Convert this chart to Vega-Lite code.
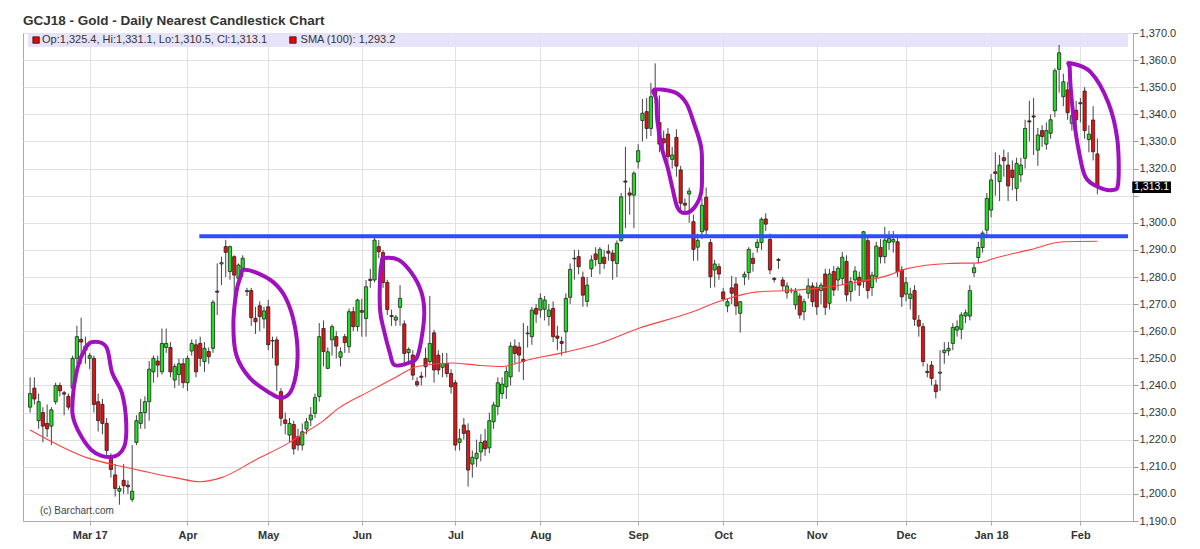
{
  "$schema": "https://vega.github.io/schema/vega-lite/v6.json",
  "width": 1110,
  "height": 488,
  "autosize": {"type": "none"},
  "padding": {"left": 23, "top": 33, "right": 67, "bottom": 28},
  "background": "white",
  "config": {"view": {"stroke": "#aaaaaa"}, "axis": {"labelOverlap": false}, "axisY": {"tickCount": 19, "labelOverlap": false}},
  "title": {"text": "GCJ18 - Gold - Daily Nearest Candlestick Chart", "anchor": "start", "frame": "group", "font": "Liberation Sans", "fontSize": 13.5, "fontWeight": "bold", "color": "#333333", "offset": -11, "baseline": "alphabetic"},
  "datasets": {
    "ohlc": [
      {"i":0,"o":1232,"h":1243,"l":1230,"c":1237},{"i":1,"o":1239,"h":1243,"l":1233,"c":1235},{"i":2,"o":1227,"h":1237,"l":1224,"c":1234},{"i":3,"o":1230,"h":1232,"l":1219,"c":1225},{"i":4,"o":1226,"h":1233,"l":1221,"c":1224},{"i":5,"o":1225,"h":1232,"l":1218,"c":1231},{"i":6,"o":1234,"h":1241,"l":1233,"c":1240},{"i":7,"o":1240,"h":1241,"l":1236,"c":1238},{"i":8,"o":1237.3,"h":1238,"l":1229,"c":1236.8},{"i":9,"o":1236,"h":1237,"l":1231,"c":1232},
      {"i":10,"o":1239,"h":1251,"l":1233,"c":1250},{"i":11,"o":1250,"h":1262,"l":1248,"c":1258},{"i":12,"o":1257,"h":1265,"l":1248,"c":1256},{"i":13,"o":1253,"h":1258,"l":1248,"c":1254.5},{"i":14,"o":1250,"h":1252,"l":1246,"c":1251},{"i":15,"o":1250,"h":1251,"l":1230,"c":1233},{"i":16,"o":1234,"h":1237,"l":1223,"c":1227},{"i":17,"o":1233,"h":1235,"l":1222,"c":1226},{"i":18,"o":1226,"h":1228,"l":1214,"c":1216},{"i":19,"o":1214,"h":1215,"l":1206,"c":1209},
      {"i":20,"o":1207,"h":1211,"l":1199,"c":1202},{"i":21,"o":1201,"h":1203,"l":1196,"c":1202},{"i":22,"o":1205,"h":1211,"l":1200,"c":1203},{"i":23,"o":1203.2,"h":1205,"l":1200,"c":1202.6},{"i":24,"o":1198,"h":1218,"l":1197,"c":1201},{"i":25,"o":1219,"h":1229,"l":1218,"c":1227},{"i":26,"o":1226,"h":1235,"l":1224,"c":1230},{"i":27,"o":1230,"h":1236,"l":1224,"c":1234},{"i":28,"o":1234,"h":1249,"l":1227,"c":1246},{"i":29,"o":1245,"h":1251,"l":1241,"c":1250},
      {"i":30,"o":1249,"h":1251,"l":1243,"c":1247.5},{"i":31,"o":1245,"h":1261,"l":1244,"c":1255.5},{"i":32,"o":1254,"h":1261,"l":1252,"c":1255.5},{"i":33,"o":1254,"h":1256,"l":1243,"c":1245},{"i":34,"o":1242,"h":1248,"l":1239,"c":1247},{"i":35,"o":1244,"h":1250,"l":1240,"c":1248},{"i":36,"o":1248,"h":1250,"l":1239,"c":1241},{"i":37,"o":1241,"h":1251,"l":1238,"c":1250},{"i":38,"o":1252.7,"h":1257,"l":1251,"c":1255.5},{"i":39,"o":1255,"h":1257,"l":1243,"c":1245},
      {"i":40,"o":1255.5,"h":1258,"l":1247,"c":1250},{"i":41,"o":1248.8,"h":1256,"l":1245,"c":1253.7},{"i":42,"o":1252.5,"h":1254,"l":1248,"c":1250.6},{"i":43,"o":1253.7,"h":1271.5,"l":1252,"c":1270.7},{"i":44,"o":1274.8,"h":1285,"l":1266,"c":1274.4},{"i":45,"o":1284.8,"h":1287.5,"l":1277,"c":1285.3},{"i":46,"o":1291.2,"h":1293.7,"l":1280,"c":1289.1},{"i":47,"o":1282,"h":1291.6,"l":1279,"c":1291.2},{"i":48,"o":1287.5,"h":1288,"l":1272,"c":1280.7},{"i":49,"o":1279.5,"h":1285,"l":1277,"c":1284.4},
      {"i":50,"o":1283.2,"h":1288,"l":1280,"c":1286.9},{"i":51,"o":1274.6,"h":1276,"l":1273,"c":1275},{"i":52,"o":1275,"h":1276,"l":1262,"c":1265},{"i":53,"o":1264.8,"h":1269,"l":1259,"c":1263.5},{"i":54,"o":1269.4,"h":1271,"l":1260,"c":1265.4},{"i":55,"o":1264.5,"h":1269,"l":1261,"c":1267.5},{"i":56,"o":1269,"h":1271.5,"l":1253,"c":1255},{"i":57,"o":1256.6,"h":1258,"l":1250,"c":1256.4},{"i":58,"o":1256.8,"h":1258,"l":1238,"c":1247.5},{"i":59,"o":1237.7,"h":1239,"l":1225,"c":1227.9},
      {"i":60,"o":1227.3,"h":1230,"l":1222,"c":1226},{"i":61,"o":1221.7,"h":1228,"l":1219,"c":1226},{"i":62,"o":1225.6,"h":1227,"l":1214.5,"c":1216.6},{"i":63,"o":1221.1,"h":1224,"l":1216,"c":1218},{"i":64,"o":1218,"h":1226,"l":1216,"c":1222.9},{"i":65,"o":1223.9,"h":1228,"l":1222,"c":1226.6},{"i":66,"o":1227.3,"h":1232,"l":1225,"c":1229.1},{"i":67,"o":1229.7,"h":1237,"l":1228,"c":1235.5},{"i":68,"o":1235.9,"h":1263,"l":1234,"c":1258},{"i":69,"o":1261,"h":1264,"l":1247,"c":1252.5},
      {"i":70,"o":1246.3,"h":1254,"l":1246,"c":1252.4},{"i":71,"o":1256.8,"h":1262.5,"l":1251,"c":1261.7},{"i":72,"o":1258,"h":1260,"l":1250,"c":1254.5},{"i":73,"o":1250.4,"h":1254,"l":1247,"c":1252.4},{"i":74,"o":1258,"h":1259,"l":1252,"c":1255.8},{"i":75,"o":1254.3,"h":1268.4,"l":1252,"c":1267.2},{"i":76,"o":1267.2,"h":1269,"l":1260,"c":1261.7},{"i":77,"o":1261.7,"h":1272,"l":1260,"c":1271.5},{"i":78,"o":1267.6,"h":1272,"l":1258,"c":1267},{"i":79,"o":1264.7,"h":1278.9,"l":1258,"c":1276.4},
      {"i":80,"o":1279.2,"h":1283,"l":1276,"c":1278.7},{"i":81,"o":1278.9,"h":1295,"l":1278,"c":1293.6},{"i":82,"o":1291.2,"h":1293.6,"l":1287,"c":1289.3},{"i":83,"o":1289,"h":1290,"l":1276,"c":1278},{"i":84,"o":1278,"h":1279,"l":1266,"c":1268},{"i":85,"o":1265.8,"h":1268,"l":1262,"c":1265.4},{"i":86,"o":1264.1,"h":1266,"l":1262,"c":1265.2},{"i":87,"o":1268.8,"h":1277,"l":1262,"c":1272.1},{"i":88,"o":1262.7,"h":1264,"l":1247,"c":1251.8},{"i":89,"o":1252.1,"h":1254,"l":1249,"c":1253.3},
      {"i":90,"o":1251.2,"h":1253,"l":1242,"c":1243.8},{"i":91,"o":1241.4,"h":1243,"l":1239.5,"c":1240.2},{"i":92,"o":1243.4,"h":1245,"l":1240,"c":1243},{"i":93,"o":1250,"h":1254,"l":1243,"c":1246.9},{"i":94,"o":1248.8,"h":1273,"l":1248,"c":1255.5},{"i":95,"o":1259.4,"h":1260.5,"l":1241,"c":1245.7},{"i":96,"o":1251.2,"h":1253,"l":1244,"c":1245.7},{"i":97,"o":1246.7,"h":1252,"l":1243,"c":1248.1},{"i":98,"o":1248.1,"h":1252,"l":1243,"c":1244.4},{"i":99,"o":1244.4,"h":1246,"l":1237,"c":1239.5},
      {"i":100,"o":1241,"h":1242,"l":1216,"c":1218},{"i":101,"o":1219,"h":1224,"l":1216,"c":1220.3},{"i":102,"o":1225.4,"h":1228,"l":1220,"c":1222.3},{"i":103,"o":1223.3,"h":1226,"l":1202.7,"c":1208.8},{"i":104,"o":1211,"h":1216,"l":1206,"c":1213.5},{"i":105,"o":1213,"h":1220,"l":1210,"c":1215},{"i":106,"o":1215.5,"h":1222,"l":1212,"c":1219},{"i":107,"o":1219.5,"h":1224,"l":1214,"c":1216.6},{"i":108,"o":1217,"h":1230,"l":1215,"c":1227},{"i":109,"o":1226.6,"h":1234,"l":1224,"c":1232.8},
      {"i":110,"o":1232.2,"h":1243,"l":1229,"c":1241},{"i":111,"o":1237,"h":1243,"l":1235,"c":1240.5},{"i":112,"o":1239.5,"h":1247,"l":1235,"c":1245.1},{"i":113,"o":1243.2,"h":1256,"l":1240,"c":1254.5},{"i":114,"o":1254.5,"h":1257,"l":1248,"c":1251.8},{"i":115,"o":1254.2,"h":1256,"l":1245,"c":1251.2},{"i":116,"o":1249.6,"h":1263,"l":1242,"c":1248.9},{"i":117,"o":1259.3,"h":1262,"l":1254,"c":1259.1},{"i":118,"o":1258,"h":1269,"l":1255,"c":1267.8},{"i":119,"o":1268.4,"h":1270,"l":1263,"c":1266.3},
      {"i":120,"o":1267.8,"h":1274,"l":1265,"c":1272.1},{"i":121,"o":1268.1,"h":1273,"l":1264,"c":1271.5},{"i":122,"o":1265.4,"h":1270,"l":1262,"c":1267.8},{"i":123,"o":1268.4,"h":1271,"l":1256,"c":1258},{"i":124,"o":1258.2,"h":1262,"l":1253,"c":1257.4},{"i":125,"o":1256.2,"h":1258,"l":1251,"c":1255.5},{"i":126,"o":1259.8,"h":1274,"l":1252,"c":1272.1},{"i":127,"o":1272.5,"h":1285,"l":1270,"c":1282.8},{"i":128,"o":1286.9,"h":1290,"l":1279,"c":1286.7},{"i":129,"o":1287.5,"h":1290,"l":1281,"c":1283.8},
      {"i":130,"o":1279.9,"h":1282,"l":1269,"c":1273.3},{"i":131,"o":1271,"h":1280,"l":1269,"c":1277},{"i":132,"o":1283,"h":1288,"l":1280,"c":1286.3},{"i":133,"o":1288.5,"h":1291,"l":1284,"c":1286.5},{"i":134,"o":1285,"h":1291,"l":1281,"c":1290.2},{"i":135,"o":1287.3,"h":1290,"l":1283,"c":1285},{"i":136,"o":1289.5,"h":1292,"l":1286,"c":1288.8},{"i":137,"o":1288.8,"h":1290,"l":1279,"c":1286},{"i":138,"o":1285,"h":1293.5,"l":1280,"c":1292.4},{"i":139,"o":1293.4,"h":1311,"l":1293,"c":1309.6},
      {"i":140,"o":1315.4,"h":1328,"l":1298,"c":1315},{"i":141,"o":1311,"h":1313,"l":1303,"c":1310.2},{"i":142,"o":1310.2,"h":1319,"l":1298,"c":1318.3},{"i":143,"o":1322.5,"h":1329,"l":1320,"c":1326.6},{"i":144,"o":1337.7,"h":1345.7,"l":1330,"c":1340.4},{"i":145,"o":1341,"h":1346,"l":1331,"c":1334.8},{"i":146,"o":1334.8,"h":1351.6,"l":1332,"c":1346.5},{"i":147,"o":1349.6,"h":1358.8,"l":1344,"c":1347.1},{"i":148,"o":1337,"h":1347,"l":1326,"c":1329},{"i":149,"o":1331,"h":1334,"l":1324,"c":1329.5},
      {"i":150,"o":1332.7,"h":1335,"l":1322,"c":1324.4},{"i":151,"o":1323.4,"h":1328,"l":1320,"c":1325},{"i":152,"o":1331.5,"h":1334.5,"l":1317,"c":1320.9},{"i":153,"o":1319.5,"h":1321,"l":1305,"c":1307.2},{"i":154,"o":1307.2,"h":1309,"l":1303,"c":1306.5},{"i":155,"o":1310.6,"h":1313,"l":1300,"c":1311.7},{"i":156,"o":1300.4,"h":1303,"l":1286,"c":1290.2},{"i":157,"o":1291,"h":1296,"l":1286,"c":1293.5},{"i":158,"o":1296.7,"h":1309,"l":1294,"c":1306.5},{"i":159,"o":1309.4,"h":1313,"l":1295,"c":1297.3},
      {"i":160,"o":1292.7,"h":1294,"l":1276,"c":1280.1},{"i":161,"o":1282.6,"h":1286.3,"l":1276.2,"c":1284.8},{"i":162,"o":1283.8,"h":1285,"l":1279,"c":1281.1},{"i":163,"o":1274.5,"h":1276,"l":1271,"c":1271.9},{"i":164,"o":1269.3,"h":1272,"l":1267,"c":1270.9},{"i":165,"o":1276,"h":1280.4,"l":1270,"c":1274},{"i":166,"o":1277.4,"h":1280,"l":1266,"c":1269.3},{"i":167,"o":1266.6,"h":1271,"l":1259.5,"c":1270.9},{"i":168,"o":1280,"h":1282,"l":1277,"c":1281},{"i":169,"o":1281.6,"h":1291,"l":1279,"c":1290.2},
      {"i":170,"o":1286.9,"h":1289,"l":1282,"c":1285},{"i":171,"o":1290.9,"h":1294,"l":1289,"c":1292.8},{"i":172,"o":1292.7,"h":1302,"l":1290,"c":1301.3},{"i":173,"o":1301.4,"h":1303.5,"l":1297,"c":1299.5},{"i":174,"o":1293.9,"h":1296,"l":1281,"c":1282.6},{"i":175,"o":1279.5,"h":1280,"l":1278,"c":1279.1},{"i":176,"o":1286.5,"h":1287,"l":1283,"c":1286.1},{"i":177,"o":1278.9,"h":1280,"l":1275,"c":1276.7},{"i":178,"o":1274.2,"h":1278,"l":1272,"c":1276.7},{"i":179,"o":1275.1,"h":1276,"l":1274,"c":1274.9},
      {"i":180,"o":1269.7,"h":1276,"l":1268,"c":1274.6},{"i":181,"o":1273,"h":1274,"l":1264.6,"c":1266},{"i":182,"o":1267.2,"h":1272,"l":1264,"c":1270.9},{"i":183,"o":1274,"h":1279.5,"l":1272,"c":1276.7},{"i":184,"o":1276.7,"h":1278,"l":1269,"c":1270.9},{"i":185,"o":1276.2,"h":1278,"l":1266,"c":1269},{"i":186,"o":1275,"h":1278,"l":1270,"c":1277},{"i":187,"o":1281.1,"h":1283,"l":1266,"c":1268.8},{"i":188,"o":1270.3,"h":1283,"l":1268,"c":1281.1},{"i":189,"o":1282,"h":1284,"l":1273,"c":1275.2},
      {"i":190,"o":1278.9,"h":1284,"l":1275,"c":1283.2},{"i":191,"o":1279.5,"h":1289.3,"l":1277,"c":1287.3},{"i":192,"o":1285.7,"h":1288,"l":1271,"c":1273.4},{"i":193,"o":1274.6,"h":1280,"l":1271,"c":1278.3},{"i":194,"o":1278.9,"h":1284,"l":1275,"c":1282.2},{"i":195,"o":1279.9,"h":1282,"l":1273,"c":1277},{"i":196,"o":1278.3,"h":1297,"l":1276,"c":1296.7},{"i":197,"o":1293.4,"h":1295,"l":1272,"c":1275},{"i":198,"o":1276.1,"h":1282,"l":1273,"c":1280.7},{"i":199,"o":1280.1,"h":1293,"l":1278,"c":1291.4},
      {"i":200,"o":1290.9,"h":1294,"l":1285,"c":1287.5},{"i":201,"o":1287.5,"h":1298.5,"l":1285,"c":1293.6},{"i":202,"o":1292.7,"h":1297,"l":1290,"c":1294.2},{"i":203,"o":1293,"h":1297,"l":1289,"c":1293.8},{"i":204,"o":1293,"h":1295,"l":1280,"c":1282},{"i":205,"o":1282.6,"h":1284,"l":1269,"c":1272.7},{"i":206,"o":1273.7,"h":1280,"l":1271,"c":1277.9},{"i":207,"o":1272.1,"h":1276,"l":1268,"c":1273.7},{"i":208,"o":1275,"h":1277,"l":1262,"c":1264.4},{"i":209,"o":1264.1,"h":1266,"l":1258,"c":1261.9},
      {"i":210,"o":1261.7,"h":1263,"l":1247,"c":1248.8},{"i":211,"o":1245.2,"h":1248,"l":1243,"c":1244.8},{"i":212,"o":1247.5,"h":1249,"l":1240,"c":1242.6},{"i":213,"o":1240.2,"h":1242,"l":1235.2,"c":1237.7},{"i":214,"o":1244.5,"h":1253,"l":1238,"c":1244.9},{"i":215,"o":1252.1,"h":1256,"l":1248,"c":1253},{"i":216,"o":1252.8,"h":1256,"l":1251,"c":1253.7},{"i":217,"o":1255.5,"h":1263,"l":1253,"c":1261.4},{"i":218,"o":1260.4,"h":1264,"l":1258,"c":1261.7},{"i":219,"o":1260.7,"h":1267,"l":1257,"c":1266},
      {"i":220,"o":1265.6,"h":1268,"l":1263,"c":1266.8},{"i":221,"o":1265.6,"h":1277,"l":1264,"c":1275},{"i":222,"o":1281.6,"h":1285,"l":1280,"c":1283.4},{"i":223,"o":1287.2,"h":1293,"l":1285,"c":1290.9},{"i":224,"o":1290.9,"h":1297,"l":1289,"c":1296.2},{"i":225,"o":1297.3,"h":1311,"l":1295,"c":1309},{"i":226,"o":1304.7,"h":1318,"l":1302,"c":1315.8},{"i":227,"o":1318.8,"h":1326,"l":1310,"c":1318.2},{"i":228,"o":1315.2,"h":1325,"l":1308,"c":1321.3},{"i":229,"o":1324,"h":1327,"l":1317,"c":1322.9},
      {"i":230,"o":1321.3,"h":1326,"l":1308,"c":1313.6},{"i":231,"o":1319.4,"h":1323,"l":1312,"c":1316.7},{"i":232,"o":1312.7,"h":1324,"l":1308,"c":1321.9},{"i":233,"o":1317.7,"h":1324,"l":1315,"c":1321.3},{"i":234,"o":1323.8,"h":1338,"l":1320,"c":1334.8},{"i":235,"o":1337.6,"h":1345,"l":1330,"c":1337.2},{"i":236,"o":1339.4,"h":1346,"l":1325,"c":1339},{"i":237,"o":1326.8,"h":1335,"l":1321,"c":1332.4},{"i":238,"o":1334,"h":1336,"l":1328,"c":1331.8},{"i":239,"o":1329,"h":1337,"l":1327,"c":1334},
      {"i":240,"o":1333,"h":1340,"l":1331,"c":1338},{"i":241,"o":1341.3,"h":1357,"l":1339,"c":1356.1},{"i":242,"o":1356.6,"h":1365.6,"l":1348,"c":1362.7},{"i":243,"o":1346.5,"h":1355,"l":1343,"c":1352},{"i":244,"o":1349,"h":1352,"l":1338,"c":1340.6},{"i":245,"o":1336.7,"h":1342,"l":1334,"c":1339.5},{"i":246,"o":1341.5,"h":1345,"l":1335,"c":1338},{"i":247,"o":1344.3,"h":1346,"l":1337,"c":1343.9},{"i":248,"o":1348.6,"h":1350,"l":1331,"c":1334},{"i":249,"o":1330.7,"h":1336,"l":1326,"c":1332.7},
      {"i":250,"o":1337.9,"h":1343,"l":1323,"c":1326.2},{"i":251,"o":1325.4,"h":1331.1,"l":1310.5,"c":1313.1}
    ],
    "sma": [
      {"i":0,"v":1223.6},{"i":14,"v":1213},{"i":22,"v":1210},{"i":34,"v":1206},{"i":40,"v":1204.5},{"i":45,"v":1206},{"i":53,"v":1212.5},{"i":61,"v":1219},{"i":64,"v":1222},{"i":69,"v":1227},{"i":72,"v":1231},{"i":80,"v":1238},{"i":86,"v":1243},{"i":91,"v":1247},{"i":99,"v":1248.3},{"i":105,"v":1247.5},{"i":111,"v":1247},{"i":117,"v":1249.4},{"i":125,"v":1252},{"i":134,"v":1255.6},{"i":143,"v":1261},{"i":155,"v":1266.7},{"i":163,"v":1271.5},{"i":171,"v":1274.5},{"i":178,"v":1275},{"i":186,"v":1276},{"i":194,"v":1278},{"i":202,"v":1280.7},{"i":206,"v":1283},{"i":216,"v":1285},{"i":223,"v":1285.2},{"i":227,"v":1287},{"i":235,"v":1290},{"i":243,"v":1293},{"i":251,"v":1293.2}
    ],
    "loops": [
      {"g":1,"k":0,"i":14.6,"p":1256},{"g":1,"k":1,"i":17.9,"p":1254.2},{"g":1,"k":2,"i":19.3,"p":1244.6},{"g":1,"k":3,"i":21.6,"p":1237.2},{"g":1,"k":4,"i":22.6,"p":1226.1},{"g":1,"k":5,"i":22.1,"p":1217.3},{"g":1,"k":6,"i":19.1,"p":1213.6},{"g":1,"k":7,"i":14.4,"p":1216.2},{"g":1,"k":8,"i":10.5,"p":1226.1},{"g":1,"k":9,"i":10,"p":1234.6},{"g":1,"k":10,"i":11.2,"p":1246.8},{"g":1,"k":11,"i":12.8,"p":1253.1},
      {"g":2,"k":0,"i":50.1,"p":1282.6},{"g":2,"k":1,"i":52.9,"p":1281.8},{"g":2,"k":2,"i":57.1,"p":1278.2},{"g":2,"k":3,"i":60.1,"p":1272.3},{"g":2,"k":4,"i":62.2,"p":1262.3},{"g":2,"k":5,"i":62.9,"p":1250.1},{"g":2,"k":6,"i":61.7,"p":1239.1},{"g":2,"k":7,"i":59.4,"p":1235.4},{"g":2,"k":8,"i":56.4,"p":1237.2},{"g":2,"k":9,"i":51.7,"p":1242.7},{"g":2,"k":10,"i":48.5,"p":1251.2},{"g":2,"k":11,"i":47.8,"p":1262.3},{"g":2,"k":12,"i":48.5,"p":1274.5},{"g":2,"k":13,"i":49.6,"p":1280.7},
      {"g":3,"k":0,"i":83.2,"p":1287},{"g":3,"k":1,"i":86.7,"p":1286.3},{"g":3,"k":2,"i":89.7,"p":1281.5},{"g":3,"k":3,"i":92,"p":1274.5},{"g":3,"k":4,"i":92.7,"p":1266.7},{"g":3,"k":5,"i":92,"p":1256.8},{"g":3,"k":6,"i":90.9,"p":1250.1},{"g":3,"k":7,"i":89,"p":1248.3},{"g":3,"k":8,"i":85.7,"p":1247.5},{"g":3,"k":9,"i":84.6,"p":1252},{"g":3,"k":10,"i":83.2,"p":1260.4},{"g":3,"k":11,"i":82.3,"p":1267.8},{"g":3,"k":12,"i":82.3,"p":1280},{"g":3,"k":13,"i":82.7,"p":1285.5},
      {"g":4,"k":0,"i":146.8,"p":1349},{"g":4,"k":1,"i":151.5,"p":1348.2},{"g":4,"k":2,"i":154.3,"p":1344.2},{"g":4,"k":3,"i":156.1,"p":1336.8},{"g":4,"k":4,"i":157.8,"p":1328},{"g":4,"k":5,"i":158,"p":1319.5},{"g":4,"k":6,"i":157.8,"p":1311},{"g":4,"k":7,"i":156.1,"p":1305.4},{"g":4,"k":8,"i":153.8,"p":1303.6},{"g":4,"k":9,"i":152.2,"p":1305.8},{"g":4,"k":10,"i":151,"p":1313.2},{"g":4,"k":11,"i":149.9,"p":1320.6},{"g":4,"k":12,"i":148.5,"p":1327.9},{"g":4,"k":13,"i":147.5,"p":1337.9},{"g":4,"k":14,"i":147.3,"p":1345.3},
      {"g":5,"k":0,"i":244.5,"p":1358.9},{"g":5,"k":1,"i":249.4,"p":1355.6},{"g":5,"k":2,"i":253.6,"p":1344.2},{"g":5,"k":3,"i":255.7,"p":1330.5},{"g":5,"k":4,"i":255.9,"p":1314.7},{"g":5,"k":5,"i":254.5,"p":1312.1},{"g":5,"k":6,"i":251.2,"p":1313.2},{"g":5,"k":7,"i":248.2,"p":1316.9},{"g":5,"k":8,"i":246.6,"p":1326.8},{"g":5,"k":9,"i":245.4,"p":1339},{"g":5,"k":10,"i":244.7,"p":1350.1},{"g":5,"k":11,"i":244.5,"p":1357.1}
    ]
  },
  "layer": [
    {
      "data": {"values": [{}]},
      "mark": {"type": "rect", "fill": "#e4e1fa", "opacity": 0.9},
      "encoding": {
        "x": {"datum": -0.5, "type": "quantitative", "scale": {"domain": [-0.5, 258.2], "nice": false, "zero": false},
          "axis": {"title": null, "values": [14,37,56,78,100,120,143,163,185,206,226,247],
            "labelExpr": "['Mar 17','Apr','May','Jun','Jul','Aug','Sep','Oct','Nov','Dec','Jan 18','Feb'][indexof([14,37,56,78,100,120,143,163,185,206,226,247], datum.value)]",
            "grid": true, "gridColor": "#e0e0e0", "domainColor": "#aaaaaa", "tickColor": "#aaaaaa", "tickSize": 4,
            "labelFont": "Liberation Sans", "labelFontSize": 11, "labelFontWeight": "bold", "labelColor": "#333333", "labelPadding": 4, "labelFlush": false, "labelOverlap": false}},
        "x2": {"datum": 258.2},
        "y": {"datum": 1364.8, "type": "quantitative", "scale": {"domain": [1190, 1370], "nice": false, "zero": false},
          "axis": {"title": null, "orient": "right", "values": [1190,1200,1210,1220,1230,1240,1250,1260,1270,1280,1290,1300,1310,1320,1330,1340,1350,1360,1370], "tickCount": 19,
            "labelExpr": "datum.value == 1310 ? '' : format(datum.value, ',.1f')",
            "grid": true, "gridColor": "#e0e0e0", "domainColor": "#aaaaaa", "tickColor": "#999999", "tickSize": 5,
            "labelFont": "Liberation Sans", "labelFontSize": 11, "labelColor": "#333333", "labelPadding": 1, "labelOverlap": false}},
        "y2": {"datum": 1370}
      }
    },
    {
      "data": {"name": "ohlc"},
      "mark": {"type": "rule", "color": "#444444", "strokeWidth": 1},
      "encoding": {
        "x": {"field": "i", "type": "quantitative", "scale": {"domain": [-0.5, 258.2], "nice": false, "zero": false}},
        "y": {"field": "l", "type": "quantitative", "scale": {"domain": [1190, 1370], "nice": false, "zero": false}},
        "y2": {"field": "h"}
      }
    },
    {
      "data": {"name": "ohlc"},
      "mark": {"type": "bar", "size": 3.2, "stroke": "#222222", "strokeWidth": 0.8},
      "encoding": {
        "x": {"field": "i", "type": "quantitative", "scale": {"domain": [-0.5, 258.2], "nice": false, "zero": false}},
        "y": {"field": "o", "type": "quantitative", "scale": {"domain": [1190, 1370], "nice": false, "zero": false}},
        "y2": {"field": "c"},
        "fill": {"condition": {"test": "datum.c >= datum.o", "value": "#1fe01f"}, "value": "#e81010"}
      }
    },
    {
      "data": {"name": "sma"},
      "mark": {"type": "line", "color": "#ff4040", "strokeWidth": 1.1, "interpolate": "monotone"},
      "encoding": {
        "x": {"field": "i", "type": "quantitative", "scale": {"domain": [-0.5, 258.2], "nice": false, "zero": false}},
        "y": {"field": "v", "type": "quantitative", "scale": {"domain": [1190, 1370], "nice": false, "zero": false}}
      }
    },
    {
      "data": {"values": [{}]},
      "mark": {"type": "rule", "color": "#2f4ef5", "strokeWidth": 4},
      "encoding": {
        "x": {"datum": 39.8, "type": "quantitative", "scale": {"domain": [-0.5, 258.2], "nice": false, "zero": false}},
        "x2": {"datum": 258.2},
        "y": {"datum": 1295, "type": "quantitative", "scale": {"domain": [1190, 1370], "nice": false, "zero": false}}
      }
    },
    {
      "data": {"name": "loops"},
      "mark": {"type": "line", "color": "#a010c0", "strokeWidth": 4, "interpolate": "cardinal-closed"},
      "encoding": {
        "x": {"field": "i", "type": "quantitative", "scale": {"domain": [-0.5, 258.2], "nice": false, "zero": false}},
        "y": {"field": "p", "type": "quantitative", "scale": {"domain": [1190, 1370], "nice": false, "zero": false}},
        "detail": {"field": "g", "type": "nominal"},
        "order": {"field": "k", "type": "quantitative"}
      }
    },
    {
      "data": {"values": [{}]},
      "mark": {"type": "point", "shape": "square", "filled": true, "fill": "#ee0000", "stroke": "#222222", "strokeWidth": 0.8, "size": 42, "opacity": 1},
      "encoding": {
        "x": {"datum": 1.4, "type": "quantitative", "scale": {"domain": [-0.5, 258.2], "nice": false, "zero": false}},
        "y": {"datum": 1367.4, "type": "quantitative", "scale": {"domain": [1190, 1370], "nice": false, "zero": false}}
      }
    },
    {
      "data": {"values": [{}]},
      "mark": {"type": "point", "shape": "square", "filled": true, "fill": "#ee0000", "stroke": "#222222", "strokeWidth": 0.8, "size": 42, "opacity": 1},
      "encoding": {
        "x": {"datum": 61.8, "type": "quantitative", "scale": {"domain": [-0.5, 258.2], "nice": false, "zero": false}},
        "y": {"datum": 1367.4, "type": "quantitative", "scale": {"domain": [1190, 1370], "nice": false, "zero": false}}
      }
    },
    {
      "data": {"values": [{}]},
      "mark": {"type": "text", "align": "left", "baseline": "middle", "font": "Liberation Sans", "fontSize": 11, "color": "#333333"},
      "encoding": {
        "x": {"datum": 2.8, "type": "quantitative", "scale": {"domain": [-0.5, 258.2], "nice": false, "zero": false}},
        "y": {"datum": 1367.4, "type": "quantitative", "scale": {"domain": [1190, 1370], "nice": false, "zero": false}},
        "text": {"value": "Op:1,325.4, Hi:1,331.1, Lo:1,310.5, Cl:1,313.1"}
      }
    },
    {
      "data": {"values": [{}]},
      "mark": {"type": "text", "align": "left", "baseline": "middle", "font": "Liberation Sans", "fontSize": 11, "color": "#333333"},
      "encoding": {
        "x": {"datum": 63.6, "type": "quantitative", "scale": {"domain": [-0.5, 258.2], "nice": false, "zero": false}},
        "y": {"datum": 1367.4, "type": "quantitative", "scale": {"domain": [1190, 1370], "nice": false, "zero": false}},
        "text": {"value": "SMA (100): 1,293.2"}
      }
    },
    {
      "data": {"values": [{}]},
      "mark": {"type": "text", "align": "left", "baseline": "middle", "font": "Liberation Sans", "fontSize": 10, "color": "#444444"},
      "encoding": {
        "x": {"datum": 2.3, "type": "quantitative", "scale": {"domain": [-0.5, 258.2], "nice": false, "zero": false}},
        "y": {"datum": 1193.7, "type": "quantitative", "scale": {"domain": [1190, 1370], "nice": false, "zero": false}},
        "text": {"value": "(c) Barchart.com"}
      }
    },
    {
      "data": {"values": [{}]},
      "mark": {"type": "rect", "fill": "#000000"},
      "encoding": {
        "x": {"datum": 259.2, "type": "quantitative", "scale": {"domain": [-0.5, 258.2], "nice": false, "zero": false}},
        "x2": {"datum": 268.3},
        "y": {"datum": 1310.95, "type": "quantitative", "scale": {"domain": [1190, 1370], "nice": false, "zero": false}},
        "y2": {"datum": 1315.25}
      }
    },
    {
      "data": {"values": [{}]},
      "mark": {"type": "text", "align": "center", "baseline": "middle", "font": "Liberation Sans", "fontSize": 10.5, "color": "#ffffff"},
      "encoding": {
        "x": {"datum": 263.75, "type": "quantitative", "scale": {"domain": [-0.5, 258.2], "nice": false, "zero": false}},
        "y": {"datum": 1313.1, "type": "quantitative", "scale": {"domain": [1190, 1370], "nice": false, "zero": false}},
        "text": {"value": "1,313.1"}
      }
    }
  ]
}
